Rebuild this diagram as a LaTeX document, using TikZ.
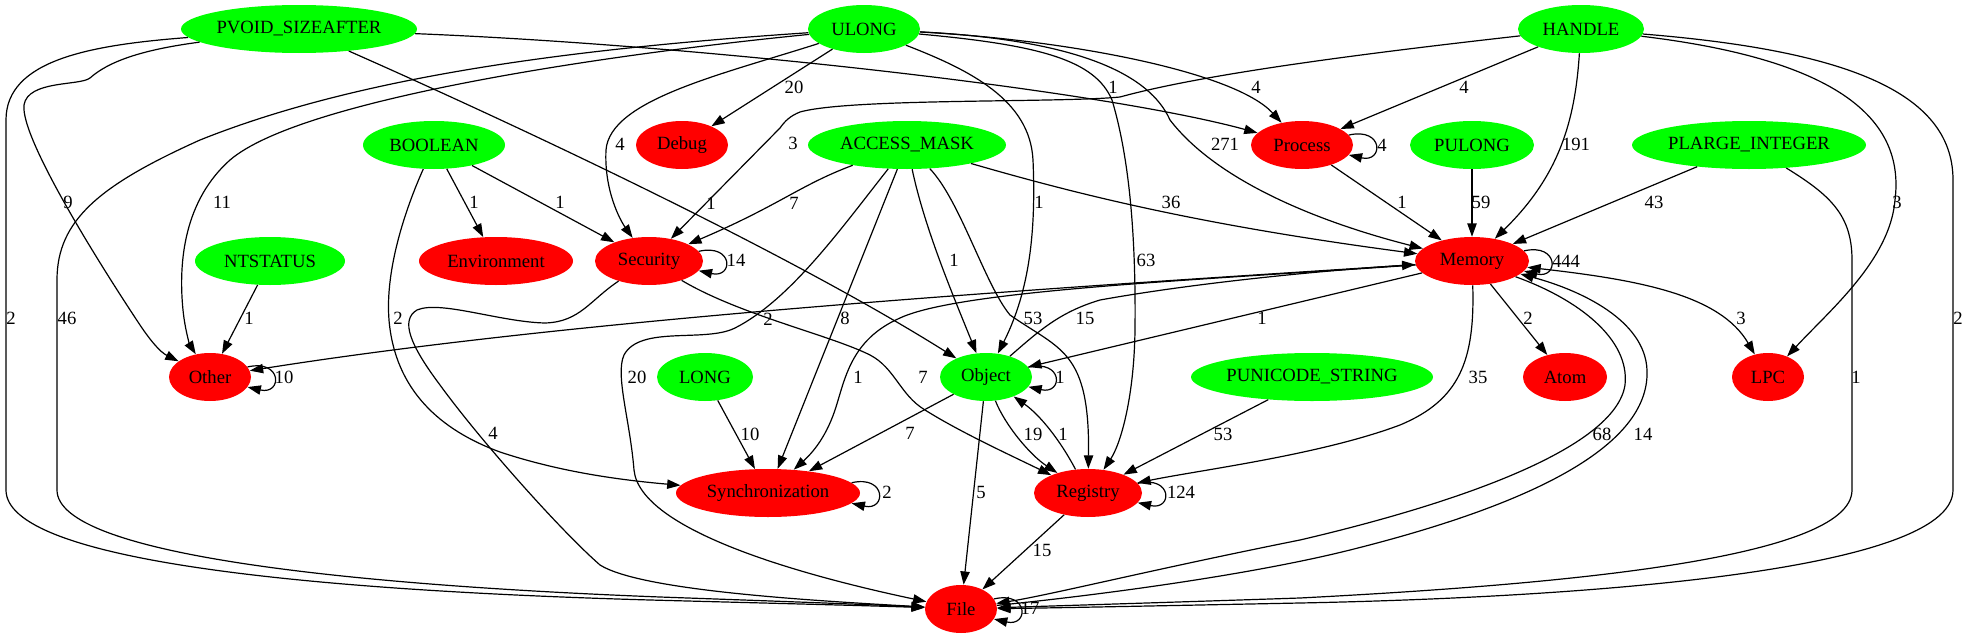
\documentclass[tikz,border=0pt]{standalone}
\usepackage{fontspec}
\setmainfont{Liberation Serif}
\usetikzlibrary{shapes.geometric,arrows.meta}
\definecolor{gfill}{RGB}{0,255,0}
\definecolor{rfill}{RGB}{255,0,0}
\begin{document}
\begin{tikzpicture}[x=0.75pt,y=-0.75pt,
  nd/.style={ellipse, inner sep=0pt, minimum height=36pt, font=\fontsize{14}{16}\selectfont},
  gn/.style={nd, fill=gfill},
  rd/.style={nd, fill=rfill},
  e/.style={line width=0.9pt, -{Triangle[length=10pt,width=7pt]}},
  ee/.style={line width=0.9pt, {Triangle[length=10pt,width=7pt]}-{Triangle[length=10pt,width=7pt]}},
  lb/.style={inner sep=0pt, font=\fontsize{14}{16}\selectfont}]
\useasboundingbox (0,0) rectangle (1968,639);
% nodes
\node[gn, minimum width=177pt] (pvoid) at (299,29) {PVOID\_SIZEAFTER};
\node[gn, minimum width=84pt] (ulong) at (864,29) {ULONG};
\node[gn, minimum width=94.5pt] (handle) at (1581,29) {HANDLE};
\node[gn, minimum width=106.5pt] (boolean) at (434,145) {BOOLEAN};
\node[rd, minimum width=69pt] (debug) at (682,145) {Debug};
\node[gn, minimum width=148.5pt] (access) at (907,145) {ACCESS\_MASK};
\node[rd, minimum width=76.5pt] (process) at (1302,145) {Process};
\node[gn, minimum width=93pt] (pulong) at (1472,145) {PULONG};
\node[gn, minimum width=175.5pt] (plarge) at (1749,145) {PLARGE\_INTEGER};
\node[gn, minimum width=112.5pt] (ntstatus) at (270,261) {NTSTATUS};
\node[rd, minimum width=115.5pt] (environment) at (496,261) {Environment};
\node[rd, minimum width=81pt] (security) at (649,261) {Security};
\node[rd, minimum width=85.5pt] (memory) at (1472,261) {Memory};
\node[rd, minimum width=61.5pt] (other) at (210,377) {Other};
\node[gn, minimum width=72pt] (long) at (705,377) {LONG};
\node[gn, minimum width=69pt] (object) at (986,377) {Object};
\node[gn, minimum width=181.5pt] (punicode) at (1312,377) {PUNICODE\_STRING};
\node[rd, minimum width=63pt] (atom) at (1565,377) {Atom};
\node[rd, minimum width=54pt] (lpc) at (1768,377) {LPC};
\node[rd, minimum width=138pt] (sync) at (768,493) {Synchronization};
\node[rd, minimum width=81pt] (registry) at (1088,493) {Registry};
\node[rd, minimum width=54pt] (file) at (961,609) {File};
% PVOID_SIZEAFTER
\draw[e] (pvoid) .. controls (90,45) and (6,60) .. (6,120) -- (6,490) .. controls (6,560) and (300,590) .. (650,600) .. controls (800,604) and (880,606) .. (file);
\draw[e] (pvoid) .. controls (140,50) and (108,62) .. (90,78) .. controls (80,86) and (28,80) .. (24,105) .. controls (20,140) and (110,280) .. (140,325) .. controls (150,340) and (160,352) .. (other);
\draw[e] (pvoid) .. controls (550,140) and (800,260) .. (object);
\draw[e] (pvoid) .. controls (700,45) and (1100,90) .. (process);
% ULONG
\draw[e] (ulong) -- (debug);
\draw[e] (ulong) .. controls (1070,40) and (1235,72) .. (process);
\draw[e] (ulong) .. controls (1080,40) and (1150,75) .. (1170,120) .. controls (1220,185) and (1330,225) .. (memory);
\draw[e] (ulong) .. controls (1040,45) and (1095,60) .. (1112,100) .. controls (1130,160) and (1136,240) .. (1135,330) .. controls (1134,400) and (1120,445) .. (registry);
\draw[e] (ulong) .. controls (970,70) and (1030,100) .. (1033,160) .. controls (1036,230) and (1030,290) .. (object);
\draw[e] (ulong) .. controls (720,75) and (610,100) .. (606,150) .. controls (604,190) and (620,220) .. (security);
\draw[e] (ulong) .. controls (600,55) and (300,100) .. (230,160) .. controls (185,200) and (178,260) .. (183,310) .. controls (185,330) and (190,345) .. (other);
\draw[e] (ulong) .. controls (550,50) and (350,80) .. (200,140) .. controls (100,185) and (57,220) .. (57,280) -- (57,490) .. controls (57,555) and (350,585) .. (660,597) .. controls (800,602) and (880,605) .. (file);
% HANDLE
\draw[e] (handle) .. controls (1350,55) and (1200,75) .. (1120,97) .. controls (1060,103) and (850,98) .. (800,112) .. controls (790,116) and (785,121) .. (780,128) -- (security);
\draw[e] (handle) -- (process);
\draw[e] (handle) .. controls (1575,120) and (1560,175) .. (memory);
\draw[e] (handle) .. controls (1840,60) and (1905,120) .. (1895,200) .. controls (1890,260) and (1830,310) .. (lpc);
\draw[e] (handle) .. controls (1840,50) and (1953,90) .. (1953,180) -- (1953,490) .. controls (1953,575) and (1550,598) .. (1300,603) .. controls (1150,606) and (1050,608) .. (file);
% PLARGE_INTEGER, PULONG, Process
\draw[e] (plarge) -- (memory);
\draw[e] (plarge) .. controls (1830,195) and (1852,215) .. (1852,260) -- (1852,490) .. controls (1852,560) and (1550,585) .. (1300,598) .. controls (1150,603) and (1050,606) .. (file);
\draw[e] (pulong) -- (memory);
\draw[e] (process) -- (memory);
% ACCESS_MASK
\draw[e] (access) .. controls (800,185) and (780,205) .. (security);
\draw[e] (access) .. controls (1080,195) and (1200,225) .. (memory);
\draw[e] (access) .. controls (925,230) and (955,300) .. (object);
\draw[e] (access) .. controls (960,200) and (985,285) .. (1010,315) .. controls (1060,350) and (1090,350) .. (registry);
\draw[e] (access) -- (sync);
\draw[e] (access) .. controls (840,230) and (790,300) .. (735,328) .. controls (705,343) and (640,325) .. (624,355) .. controls (615,375) and (630,420) .. (634,470) .. controls (640,530) and (800,575) .. (file);
% BOOLEAN, NTSTATUS, LONG, PUNICODE_STRING
\draw[e] (boolean) -- (environment);
\draw[e] (boolean) -- (security);
\draw[e] (boolean) .. controls (405,210) and (385,270) .. (389,320) .. controls (395,390) and (440,430) .. (500,452) .. controls (560,472) and (620,480) .. (sync);
\draw[e] (ntstatus) -- (other);
\draw[e] (long) -- (sync);
\draw[e] (punicode) -- (registry);
% Security
\draw[e] (security) .. controls (740,315) and (830,335) .. (870,355) .. controls (895,368) and (900,395) .. (925,410) .. controls (960,432) and (1010,455) .. (registry);
\draw[e] (security) .. controls (590,300) and (580,322) .. (545,323) .. controls (500,322) and (440,300) .. (417,310) .. controls (400,320) and (410,345) .. (440,385) .. controls (480,440) and (560,530) .. (600,565) .. controls (640,590) and (800,600) .. (file);
% Memory
\draw[e] (memory) .. controls (1100,285) and (600,315) .. (other);
\draw[e] (memory) .. controls (1200,280) and (960,290) .. (900,318) .. controls (850,340) and (845,380) .. (835,410) .. controls (825,440) and (810,455) .. (sync);
\draw[e] (memory) -- (object);
\draw[e] (object) .. controls (1040,330) and (1060,312) .. (1100,300) .. controls (1200,282) and (1330,270) .. (memory);
\draw[e] (memory) -- (atom);
\draw[ee] (memory) .. controls (1640,280) and (1720,295) .. (lpc);
\draw[e] (memory) .. controls (1475,360) and (1460,400) .. (1400,425) .. controls (1320,455) and (1200,470) .. (registry);
\draw[e] (memory) .. controls (1580,300) and (1630,340) .. (1625,385) .. controls (1615,450) and (1450,505) .. (1300,540) .. controls (1150,570) and (1050,595) .. (file);
\draw[e] (file) .. controls (1100,595) and (1250,575) .. (1350,550) .. controls (1550,500) and (1650,440) .. (1647,370) .. controls (1645,320) and (1580,290) .. (memory);
% Object, Registry
\draw[e] (object) -- (sync);
\draw[e] (object) .. controls (1005,425) and (1030,455) .. (registry);
\draw[e] (registry) .. controls (1060,440) and (1040,415) .. (object);
\draw[e] (object) -- (file);
\draw[e] (registry) -- (file);
% self loops
\draw[e] (process.12) .. controls +(35,-8) and +(35,8) .. (process.-12);
\draw[e] (security.11.5) .. controls +(35,-8) and +(35,8) .. (security.-11.5);
\draw[e] (memory.11) .. controls +(35,-8) and +(35,8) .. (memory.-11);
\draw[e] (other.15) .. controls +(35,-8) and +(35,8) .. (other.-15);
\draw[e] (object.13) .. controls +(35,-8) and +(35,8) .. (object.-13);
\draw[e] (sync.7) .. controls +(35,-8) and +(35,8) .. (sync.-7);
\draw[e] (registry.11.5) .. controls +(35,-8) and +(35,8) .. (registry.-11.5);
\draw[e] (file.17) .. controls +(35,-8) and +(35,8) .. (file.-17);
% edge labels
\node[lb] (l01) at (794,87) {20};
\node[lb] (l02) at (1113,87) {1};
\node[lb] (l03) at (1256,87) {4};
\node[lb] (l04) at (1464,87) {4};
\node[lb] (l05) at (620,144) {4};
\node[lb] (l06) at (793,143) {3};
\node[lb] (l07) at (1225,144) {271};
\node[lb] (l08) at (1382,145) {4};
\node[lb] (l09) at (1576,144) {191};
\node[lb] (l10) at (68,202) {9};
\node[lb] (l11) at (222,202) {11};
\node[lb] (l12) at (474,202) {1};
\node[lb] (l13) at (560,202) {1};
\node[lb] (l14) at (711,203) {1};
\node[lb] (l15) at (794,203) {7};
\node[lb] (l16) at (1039,202) {1};
\node[lb] (l17) at (1171,202) {36};
\node[lb] (l18) at (1402,202) {1};
\node[lb] (l19) at (1481,202) {59};
\node[lb] (l20) at (1654,202) {43};
\node[lb] (l21) at (1897,202) {3};
\node[lb] (l22) at (736,260) {14};
\node[lb] (l23) at (954,260) {1};
\node[lb] (l24) at (1146,260) {63};
\node[lb] (l25) at (1566,261) {444};
\node[lb] (l26) at (11,318) {2};
\node[lb] (l27) at (67,318) {46};
\node[lb] (l28) at (249,318) {1};
\node[lb] (l29) at (398,318) {2};
\node[lb] (l30) at (768,319) {2};
\node[lb] (l31) at (845,318) {8};
\node[lb] (l32) at (1033,318) {53};
\node[lb] (l33) at (1085,318) {15};
\node[lb] (l34) at (1262,318) {1};
\node[lb] (l35) at (1528,318) {2};
\node[lb] (l36) at (1741,318) {3};
\node[lb] (l37) at (1958,318) {2};
\node[lb] (l38) at (284,377) {10};
\node[lb] (l39) at (637,377) {20};
\node[lb] (l40) at (858,377) {1};
\node[lb] (l41) at (923,377) {7};
\node[lb] (l42) at (1060,377) {1};
\node[lb] (l43) at (1478,377) {35};
\node[lb] (l44) at (1856,377) {1};
\node[lb] (l45) at (493,433) {4};
\node[lb] (l46) at (750,434) {10};
\node[lb] (l47) at (910,433) {7};
\node[lb] (l48) at (1033,434) {19};
\node[lb] (l49) at (1063,434) {1};
\node[lb] (l50) at (1223,434) {53};
\node[lb] (l51) at (1602,434) {68};
\node[lb] (l52) at (1643,434) {14};
\node[lb] (l53) at (887,492) {2};
\node[lb] (l54) at (981,492) {5};
\node[lb] (l55) at (1181,492) {124};
\node[lb] (l56) at (1042,550) {15};
\node[lb] (l57) at (1030,608) {17};
\end{tikzpicture}
\end{document}
